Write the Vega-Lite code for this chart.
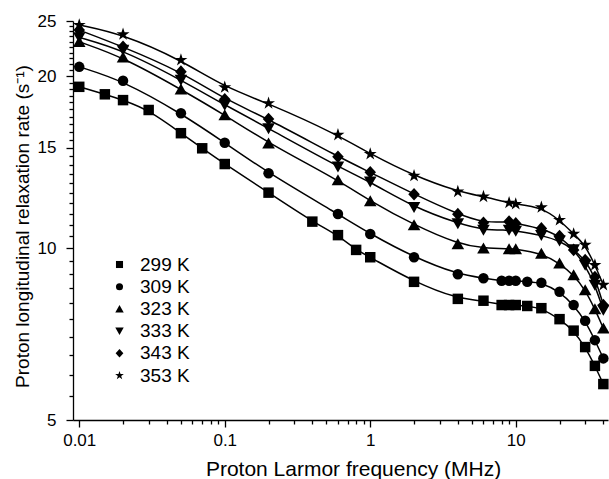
{
  "$schema": "https://vega.github.io/schema/vega-lite/v6.json",
  "width": 535,
  "height": 399,
  "autosize": "none",
  "padding": {"left": 73, "top": 21, "right": 1, "bottom": 59},
  "background": "white",
  "config": {
    "view": {"stroke": null},
    "font": "Liberation Sans",
    "axis": {
      "grid": false,
      "domainColor": "black",
      "domainWidth": 1.3,
      "tickColor": "black",
      "tickWidth": 1.3,
      "labelColor": "black",
      "labelFont": "Liberation Sans",
      "labelFontSize": 17,
      "titleFont": "Liberation Sans",
      "titleFontWeight": "normal",
      "titleColor": "black",
      "labelOverlap": false,
      "labelFlush": false,
      "labelBound": false
    }
  },
  "data": {
    "values": [
      {"f": 0.01, "r": 19.17, "T": "299 K"},
      {"f": 0.015, "r": 18.6, "T": "299 K"},
      {"f": 0.02, "r": 18.17, "T": "299 K"},
      {"f": 0.03, "r": 17.46, "T": "299 K"},
      {"f": 0.05, "r": 15.9, "T": "299 K"},
      {"f": 0.07, "r": 14.96, "T": "299 K"},
      {"f": 0.1, "r": 14.04, "T": "299 K"},
      {"f": 0.2, "r": 12.51, "T": "299 K"},
      {"f": 0.4, "r": 11.13, "T": "299 K"},
      {"f": 0.6, "r": 10.54, "T": "299 K"},
      {"f": 0.8, "r": 9.93, "T": "299 K"},
      {"f": 1, "r": 9.64, "T": "299 K"},
      {"f": 2, "r": 8.73, "T": "299 K"},
      {"f": 4, "r": 8.15, "T": "299 K"},
      {"f": 6, "r": 8.09, "T": "299 K"},
      {"f": 8, "r": 7.95, "T": "299 K"},
      {"f": 9, "r": 7.95, "T": "299 K"},
      {"f": 10, "r": 7.95, "T": "299 K"},
      {"f": 12, "r": 7.92, "T": "299 K"},
      {"f": 15, "r": 7.85, "T": "299 K"},
      {"f": 20, "r": 7.51, "T": "299 K"},
      {"f": 25, "r": 7.17, "T": "299 K"},
      {"f": 30, "r": 6.71, "T": "299 K"},
      {"f": 35, "r": 6.22, "T": "299 K"},
      {"f": 40, "r": 5.78, "T": "299 K"},

      {"f": 0.01, "r": 20.78, "T": "309 K"},
      {"f": 0.02, "r": 19.65, "T": "309 K"},
      {"f": 0.05, "r": 17.23, "T": "309 K"},
      {"f": 0.1, "r": 15.3, "T": "309 K"},
      {"f": 0.2, "r": 13.53, "T": "309 K"},
      {"f": 0.6, "r": 11.48, "T": "309 K"},
      {"f": 1, "r": 10.59, "T": "309 K"},
      {"f": 2, "r": 9.64, "T": "309 K"},
      {"f": 4, "r": 9.0, "T": "309 K"},
      {"f": 6, "r": 8.86, "T": "309 K"},
      {"f": 8, "r": 8.77, "T": "309 K"},
      {"f": 9, "r": 8.77, "T": "309 K"},
      {"f": 10, "r": 8.77, "T": "309 K"},
      {"f": 12, "r": 8.73, "T": "309 K"},
      {"f": 15, "r": 8.7, "T": "309 K"},
      {"f": 20, "r": 8.39, "T": "309 K"},
      {"f": 25, "r": 7.95, "T": "309 K"},
      {"f": 30, "r": 7.46, "T": "309 K"},
      {"f": 35, "r": 6.9, "T": "309 K"},
      {"f": 40, "r": 6.41, "T": "309 K"},

      {"f": 0.01, "r": 22.99, "T": "323 K"},
      {"f": 0.02, "r": 21.6, "T": "323 K"},
      {"f": 0.05, "r": 18.98, "T": "323 K"},
      {"f": 0.1, "r": 17.11, "T": "323 K"},
      {"f": 0.2, "r": 15.27, "T": "323 K"},
      {"f": 0.6, "r": 13.16, "T": "323 K"},
      {"f": 1, "r": 12.09, "T": "323 K"},
      {"f": 2, "r": 10.98, "T": "323 K"},
      {"f": 4, "r": 10.17, "T": "323 K"},
      {"f": 6, "r": 10.0, "T": "323 K"},
      {"f": 9, "r": 9.97, "T": "323 K"},
      {"f": 10, "r": 9.97, "T": "323 K"},
      {"f": 15, "r": 9.79, "T": "323 K"},
      {"f": 20, "r": 9.41, "T": "323 K"},
      {"f": 25, "r": 8.97, "T": "323 K"},
      {"f": 30, "r": 8.45, "T": "323 K"},
      {"f": 35, "r": 7.82, "T": "323 K"},
      {"f": 40, "r": 7.24, "T": "323 K"},

      {"f": 0.01, "r": 23.4, "T": "333 K"},
      {"f": 0.02, "r": 22.24, "T": "333 K"},
      {"f": 0.05, "r": 19.71, "T": "333 K"},
      {"f": 0.1, "r": 17.82, "T": "333 K"},
      {"f": 0.2, "r": 16.21, "T": "333 K"},
      {"f": 0.6, "r": 13.89, "T": "333 K"},
      {"f": 1, "r": 13.07, "T": "333 K"},
      {"f": 2, "r": 11.79, "T": "333 K"},
      {"f": 4, "r": 11.05, "T": "333 K"},
      {"f": 6, "r": 10.76, "T": "333 K"},
      {"f": 9, "r": 10.76, "T": "333 K"},
      {"f": 10, "r": 10.72, "T": "333 K"},
      {"f": 15, "r": 10.54, "T": "333 K"},
      {"f": 20, "r": 10.3, "T": "333 K"},
      {"f": 25, "r": 9.95, "T": "333 K"},
      {"f": 30, "r": 9.34, "T": "333 K"},
      {"f": 35, "r": 8.62, "T": "333 K"},
      {"f": 40, "r": 7.79, "T": "333 K"},

      {"f": 0.01, "r": 24.1, "T": "343 K"},
      {"f": 0.02, "r": 22.54, "T": "343 K"},
      {"f": 0.05, "r": 20.38, "T": "343 K"},
      {"f": 0.1, "r": 18.23, "T": "343 K"},
      {"f": 0.2, "r": 16.84, "T": "343 K"},
      {"f": 0.6, "r": 14.46, "T": "343 K"},
      {"f": 1, "r": 13.58, "T": "343 K"},
      {"f": 2, "r": 12.43, "T": "343 K"},
      {"f": 4, "r": 11.47, "T": "343 K"},
      {"f": 6, "r": 11.08, "T": "343 K"},
      {"f": 9, "r": 11.13, "T": "343 K"},
      {"f": 10, "r": 11.05, "T": "343 K"},
      {"f": 15, "r": 10.83, "T": "343 K"},
      {"f": 20, "r": 10.5, "T": "343 K"},
      {"f": 25, "r": 9.93, "T": "343 K"},
      {"f": 30, "r": 9.53, "T": "343 K"},
      {"f": 35, "r": 8.9, "T": "343 K"},
      {"f": 40, "r": 7.95, "T": "343 K"},

      {"f": 0.01, "r": 24.6, "T": "353 K"},
      {"f": 0.02, "r": 23.69, "T": "353 K"},
      {"f": 0.05, "r": 21.36, "T": "353 K"},
      {"f": 0.1, "r": 19.13, "T": "353 K"},
      {"f": 0.2, "r": 17.94, "T": "353 K"},
      {"f": 0.6, "r": 15.79, "T": "353 K"},
      {"f": 1, "r": 14.62, "T": "353 K"},
      {"f": 2, "r": 13.39, "T": "353 K"},
      {"f": 4, "r": 12.56, "T": "353 K"},
      {"f": 6, "r": 12.31, "T": "353 K"},
      {"f": 9, "r": 12.01, "T": "353 K"},
      {"f": 10, "r": 11.95, "T": "353 K"},
      {"f": 15, "r": 11.79, "T": "353 K"},
      {"f": 20, "r": 11.2, "T": "353 K"},
      {"f": 25, "r": 10.59, "T": "353 K"},
      {"f": 30, "r": 10.13, "T": "353 K"},
      {"f": 35, "r": 9.34, "T": "353 K"},
      {"f": 40, "r": 8.62, "T": "353 K"}
    ]
  },
  "encoding": {
    "x": {
      "field": "f",
      "type": "quantitative",
      "scale": {"type": "log", "domain": [0.00906, 43.06], "nice": false},
      "axis": {
        "title": "Proton Larmor frequency (MHz)",
        "titleFontSize": 21,
        "values": [0.01, 0.02, 0.03, 0.04, 0.05, 0.06, 0.07, 0.08, 0.09, 0.1, 0.2, 0.3, 0.4, 0.5, 0.6, 0.7, 0.8, 0.9, 1, 2, 3, 4, 5, 6, 7, 8, 9, 10, 20, 30, 40],
        "labelExpr": "datum.value == 0.01 ? '0.01' : datum.value == 0.1 ? '0.1' : datum.value == 1 ? '1' : datum.value == 10 ? '10' : ''",
        "tickSize": {"condition": {"test": "datum.value == 0.01 || datum.value == 0.1 || datum.value == 1 || datum.value == 10", "value": 7}, "value": 4},
        "labelPadding": 5,
        "titleX": 280,
        "titleY": 55,
        "titleAlign": "center",
        "titleBaseline": "alphabetic"
      }
    },
    "y": {
      "field": "r",
      "type": "quantitative",
      "scale": {"type": "log", "domain": [5, 25], "nice": false},
      "axis": {
        "title": "Proton longitudinal relaxation rate (s⁻¹)",
        "titleFontSize": 19,
        "values": [5, 5.5, 6, 6.5, 7, 7.5, 8, 8.5, 9, 9.5, 10, 10.5, 11, 11.5, 12, 12.5, 13, 13.5, 14, 14.5, 15, 15.5, 16, 16.5, 17, 17.5, 18, 18.5, 19, 19.5, 20, 20.5, 21, 21.5, 22, 22.5, 23, 23.5, 24, 24.5, 25],
        "labelExpr": "datum.value % 5 == 0 ? format(datum.value, 'd') : ''",
        "tickSize": {"condition": {"test": "datum.value % 5 == 0", "value": 7}, "value": 4},
        "labelPadding": 10,
        "titleX": -51,
        "titleY": 205,
        "titleAngle": -90,
        "titleAlign": "center",
        "titleBaseline": "middle"
      }
    }
  },
  "layer": [
    {
      "mark": {"type": "line", "interpolate": "basis", "color": "black", "strokeWidth": 1.5},
      "encoding": {"detail": {"field": "T", "type": "nominal"}}
    },
    {
      "mark": {"type": "point", "filled": true, "color": "black", "opacity": 1, "size": 110},
      "encoding": {
        "shape": {
          "field": "T",
          "type": "nominal",
          "scale": {
            "domain": ["299 K", "309 K", "323 K", "333 K", "343 K", "353 K"],
            "range": ["square", "circle", "M0,-1.1L1.2,1L-1.2,1Z", "M0,1.1L1.2,-1L-1.2,-1Z", "M0,-1.2L1.1,0L0,1.2L-1.1,0Z", "M0,-1.3L0.292,-0.402L1.236,-0.402L0.472,0.153L0.764,1.052L0,0.497L-0.764,1.052L-0.472,0.153L-1.236,-0.402L-0.292,-0.402Z"]
          },
          "legend": {
            "orient": "none",
            "legendX": 37,
            "legendY": 234,
            "title": null,
            "padding": 0,
            "labelFontSize": 19,
            "labelFont": "Liberation Sans",
            "labelColor": "black",
            "symbolSize": 50,
            "symbolFillColor": "black",
            "symbolStrokeWidth": 0,
            "rowPadding": 2.2,
            "labelOffset": 11
          }
        }
      }
    }
  ]
}
